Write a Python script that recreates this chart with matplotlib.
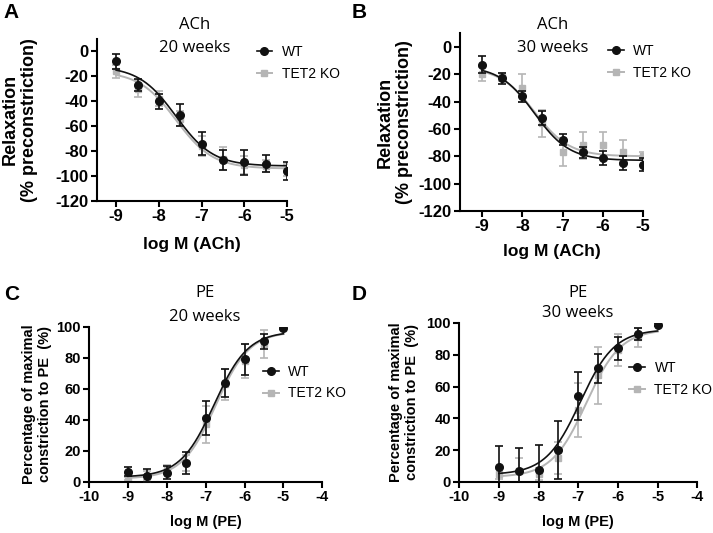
import numpy as np
import matplotlib
matplotlib.use("Agg")
import matplotlib.pyplot as plt

plt.rcParams["font.family"] = ["Liberation Sans", "DejaVu Sans"]

# ----------------------------- data -----------------------------#
log_dose = [-9, -8.5, -8, -7.5, -7, -6.5, -6, -5.5, -5]

# A: ACh, 20 weeks
a_wt = [-8, -27, -40, -51, -74, -87, -89, -90, -96]
a_wt_err = [6, 5, 6, 9, 9, 8, 10, 7, 7]
a_ko = [-16, -30, -38, -54, -76, -86, -91, -92, -95]
a_ko_err = [5, 7, 6, 6, 8, 9, 7, 5, 5]

# B: ACh, 30 weeks
b_wt = [-13, -23, -36, -52, -68, -77, -81, -85, -86]
b_wt_err = [6, 4, 4, 5, 4, 4, 5, 5, 5]
b_ko = [-20, -22, -30, -56, -77, -72, -72, -77, -80]
b_ko_err = [5, 3, 10, 10, 10, 10, 10, 9, 3]

# C: PE, 20 weeks
c_wt = [6.5, 4, 6, 12, 41, 63.5, 79, 90.5, 99.5]
c_wt_err = [3, 4, 4, 7, 11, 9, 10, 5, 1]
c_ko = [2, 4, 8, 12, 37, 63, 78, 89, 99]
c_ko_err = [1, 3, 3, 5, 12, 10, 11, 9, 1]

# D: PE, 30 weeks
d_wt = [9.5, 7, 7.5, 20, 54, 71.5, 84, 93, 99]
d_wt_err = [13, 14, 16, 18, 15, 9, 7, 4, 1]
d_ko = [5, 7, 5, 15, 45, 67, 83, 91, 100]
d_ko_err = [3, 8, 4, 10, 17, 18, 10, 6, 2]

# fitted curves: (left plateau, right plateau, logEC50, hill slope)
a_wt_fit = [-12, -92, -7.6, 1.0]
a_ko_fit = [-16, -94, -7.6, 1.0]
b_wt_fit = [-14, -83, -7.7, 1.0]
b_ko_fit = [-15, -80, -7.7, 1.0]
c_wt_fit = [3, 97, -6.78, 1.0]
c_ko_fit = [2, 97, -6.74, 1.0]
d_wt_fit = [4.5, 96, -6.95, 1.0]
d_ko_fit = [3, 96, -6.8, 1.0]

BLACK = "#111111"
GREY = "#b5b5b5"


def hill(x, p):
    left, right, ec50, h = p
    return left + (right - left) / (1 + 10 ** ((ec50 - x) * h))


def draw_panel(ax, wt, wt_err, ko, ko_err, wt_fit, ko_fit, x0, x1, tick_fs):
    xs = np.linspace(-9, -5, 200)
    ax.errorbar(log_dose, ko, yerr=ko_err, fmt="s", color=GREY, ms=5,
                capsize=2.8, elinewidth=1.2, capthick=1.2, zorder=2)
    ax.plot(xs, hill(xs, ko_fit), color=GREY, lw=1.4, zorder=2)
    ax.errorbar(log_dose, wt, yerr=wt_err, fmt="o", color=BLACK, ms=5.5,
                capsize=2.8, elinewidth=1.2, capthick=1.2, zorder=3)
    ax.plot(xs, hill(xs, wt_fit), color=BLACK, lw=1.2, zorder=3)
    ax.set_xlim(x0, x1)
    for s in ["top", "right"]:
        ax.spines[s].set_visible(False)
    for s in ["left", "bottom"]:
        ax.spines[s].set_linewidth(1.5)
    ax.tick_params(width=1.5, length=4, labelsize=tick_fs, pad=2)


def set_ticks(ax, xt, yt):
    ax.set_xticks(xt)
    ax.set_xticklabels([str(v) for v in xt], fontweight="bold")
    ax.set_yticks(yt)
    ax.set_yticklabels([str(v) for v in yt], fontweight="bold")


def add_legend(ax, loc):
    wt_h, = ax.plot([], [], "-o", color=BLACK, ms=5.5, lw=1.2)
    ko_h, = ax.plot([], [], "-s", color=GREY, ms=5, lw=1.4)
    ax.legend([wt_h, ko_h], ["WT", "TET2 KO"], frameon=False, fontsize=10,
              loc="upper left", bbox_to_anchor=loc, handlelength=1.1,
              handletextpad=0.7, borderaxespad=0, borderpad=0,
              labelspacing=0.55)


def px(x, y):
    return x / 713, 1 - y / 533


fig = plt.figure(figsize=(7.13, 5.33), dpi=100)

axA = fig.add_axes([0.136, 0.623, 0.2665, 0.304])
axB = fig.add_axes([0.645, 0.604, 0.257, 0.334])
axC = fig.add_axes([0.125, 0.096, 0.327, 0.291])
axD = fig.add_axes([0.644, 0.096, 0.334, 0.298])

ach_yticks = list(range(-120, 1, 20))
ach_xticks = [-9, -8, -7, -6, -5]
pe_yticks = list(range(0, 101, 20))
pe_xticks = list(range(-10, -3))

# A
draw_panel(axA, a_wt, a_wt_err, a_ko, a_ko_err, a_wt_fit, a_ko_fit, -9.45, -5, 12)
axA.set_ylim(-120, 10)
set_ticks(axA, ach_xticks, ach_yticks)
axA.set_ylabel("Relaxation\n(% preconstriction)", fontsize=13, fontweight="bold",
               va="center", multialignment="center")
axA.yaxis.set_label_coords(-0.405, 0.5)
axA.set_xlabel("log M (ACh)", fontsize=12.5, fontweight="bold", va="center")
axA.xaxis.set_label_coords(0.5, -44 / 162)
add_legend(axA, (0.84, 0.963))

# B
draw_panel(axB, b_wt, b_wt_err, b_ko, b_ko_err, b_wt_fit, b_ko_fit, -9.55, -5, 12)
axB.set_ylim(-120, 10)
set_ticks(axB, ach_xticks, ach_yticks)
axB.set_ylabel("Relaxation\n(% preconstriction)", fontsize=13, fontweight="bold",
               va="center", multialignment="center")
axB.yaxis.set_label_coords(-0.355, 0.5)
axB.set_xlabel("log M (ACh)", fontsize=12.5, fontweight="bold", va="center")
axB.xaxis.set_label_coords(0.5, -40 / 178)
add_legend(axB, (0.81, 0.938))

# C
draw_panel(axC, c_wt, c_wt_err, c_ko, c_ko_err, c_wt_fit, c_ko_fit, -10, -4, 10.5)
axC.set_ylim(0, 100)
set_ticks(axC, pe_xticks, pe_yticks)
axC.set_ylabel("Percentage of maximal\nconstriction to PE  (%)", fontsize=10.5,
               fontweight="bold", va="center", multialignment="center")
axC.yaxis.set_label_coords(-0.223, 0.5)
axC.set_xlabel("log M (PE)", fontsize=10.5, fontweight="bold", va="center")
axC.xaxis.set_label_coords(0.5, -40 / 155)
add_legend(axC, (0.747, 0.755))

# D
draw_panel(axD, d_wt, d_wt_err, d_ko, d_ko_err, d_wt_fit, d_ko_fit, -10, -4, 10.5)
axD.set_ylim(0, 100)
set_ticks(axD, pe_xticks, pe_yticks)
axD.set_ylabel("Percentage of maximal\nconstriction to PE  (%)", fontsize=10.5,
               fontweight="bold", va="center", multialignment="center")
axD.yaxis.set_label_coords(-0.231, 0.5)
axD.set_xlabel("log M (PE)", fontsize=10.5, fontweight="bold", va="center")
axD.xaxis.set_label_coords(0.5, -40 / 159)
add_legend(axD, (0.715, 0.761))

for ax in (axC, axD):
    ax.spines["left"].set_bounds(0, 100)

# titles
title_kw = dict(ha="center", va="center", fontsize=12, family=["Open Sans", "DejaVu Sans"])
for text, x, y in [("ACh", 195, 25), ("20 weeks", 195, 48),
                   ("ACh", 553, 25), ("30 weeks", 553, 48),
                   ("PE", 205, 293), ("20 weeks", 205, 317),
                   ("PE", 578, 293), ("30 weeks", 578, 313)]:
    fig.text(*px(x, y), text, **title_kw)

# panel letters
for letter, x, y in [("A", 3, 12), ("B", 352, 12), ("C", 4, 294), ("D", 352, 294)]:
    fig.text(*px(x, y), letter, fontsize=15, fontweight="bold", va="center")

fig.savefig("out.png", dpi=100)
